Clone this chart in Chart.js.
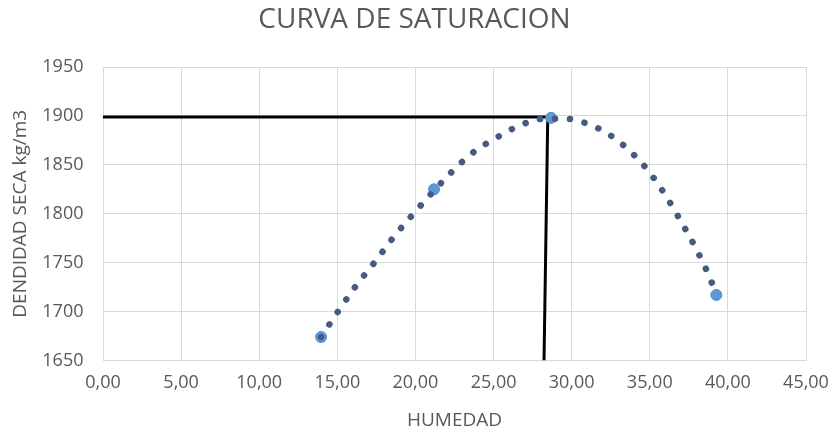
<!DOCTYPE html>
<html>
<head>
<meta charset="utf-8">
<script src="https://cdn.jsdelivr.net/npm/chart.js@4/dist/chart.umd.min.js"></script>
<style>
  html, body { margin: 0; padding: 0; background: #fff; }
  #grafico { display: block; }
</style>
</head>
<body>
<canvas id="grafico" width="834" height="433"></canvas>
<script>
// puntos del ensayo
const humedadEnsayo = [13.96, 21.19, 28.68, 39.26];
const densidadEnsayo = [1674, 1825, 1898, 1717];

// linea de tendencia
const humedadTendencia = [13.96, 15.04, 16.18, 17.37, 18.55, 19.76, 21.04, 22.28, 23.64, 25.21, 26.78, 28.2, 29.7, 31.0, 32.3, 33.6, 34.9, 36.0, 37.0, 37.94, 38.78, 39.2];
const densidadTendencia = [1674, 1700, 1726, 1750, 1775, 1798, 1821, 1842, 1862, 1878, 1891, 1897, 1897, 1892, 1882, 1866, 1844, 1819, 1792, 1765, 1737, 1720];

// humedad optima / densidad maxima
const humedadOptima = [0, 28.47, 28.23];
const densidadMaxima = [1899, 1899, 1650];

// ejes
const ejeX = { min: 0, max: 45, paso: 5 };
const ejeY = { min: 1650, max: 1950, paso: 50 };

function juntar(xs, ys) {
  return xs.map(function (x, i) { return { x: x, y: ys[i] }; });
}

const gris = '#595959';
const fuente = "'Open Sans', sans-serif";

new Chart(document.getElementById('grafico'), {
  type: 'scatter',
  data: {
    datasets: [
      {
        label: 'Tendencia',
        data: juntar(humedadTendencia, densidadTendencia),
        showLine: true,
        borderColor: '#465a82',
        borderWidth: 6.5,
        borderDash: [0.1, 14.9],
        borderCapStyle: 'round',
        cubicInterpolationMode: 'monotone',
        pointRadius: 0,
        order: 0
      },
      {
        label: 'Ensayo',
        data: juntar(humedadEnsayo, densidadEnsayo),
        backgroundColor: '#5b9bd5',
        borderColor: '#4a90d0',
        borderWidth: 1,
        pointRadius: 5.5,
        order: 1
      },
      {
        label: 'Optimo',
        data: juntar(humedadOptima, densidadMaxima),
        showLine: true,
        borderColor: '#000',
        borderWidth: 3,
        pointRadius: 0,
        tension: 0,
        order: 2
      }
    ]
  },
  options: {
    responsive: false,
    animation: false,
    layout: { padding: { left: 0, right: 5, top: 0, bottom: 0 } },
    plugins: {
      legend: { display: false },
      tooltip: { enabled: false },
      title: {
        display: true,
        text: 'CURVA DE SATURACION',
        color: gris,
        font: { family: fuente, size: 28, weight: 'normal' },
        padding: { top: 3, bottom: 30.4 }
      }
    },
    scales: {
      x: {
        type: 'linear',
        min: ejeX.min,
        max: ejeX.max,
        afterFit: function (s) {
          s.height = 72.5;
          s.paddingLeft = 0;
          s.paddingRight = 0;
        },
        ticks: {
          stepSize: ejeX.paso,
          color: gris,
          padding: 12,
          font: { family: fuente, size: 18 },
          callback: function (v) { return v.toFixed(2).replace('.', ','); }
        },
        grid: { color: '#d9d9d9', lineWidth: 1, drawTicks: false },
        border: { color: '#d9d9d9' },
        title: {
          display: true,
          text: 'HUMEDAD',
          color: gris,
          font: { family: fuente, size: 19 },
          padding: { top: 0, bottom: 1 }
        }
      },
      y: {
        type: 'linear',
        min: ejeY.min,
        max: ejeY.max,
        afterFit: function (s) { s.width = 103; },
        ticks: {
          stepSize: ejeY.paso,
          color: gris,
          padding: 19.5,
          font: { family: fuente, size: 18 },
          callback: function (v) { return String(v); }
        },
        grid: { color: '#d9d9d9', lineWidth: 1, drawTicks: false },
        border: { color: '#d9d9d9' },
        title: {
          display: true,
          text: 'DENDIDAD SECA kg/m3',
          color: gris,
          font: { family: fuente, size: 19 },
          padding: { top: 9, bottom: 0 }
        }
      },
      // eje vacio a la derecha, solo para dejar el margen
      margen: {
        type: 'linear',
        position: 'right',
        display: true,
        afterFit: function (s) { s.width = 23; },
        ticks: { display: false },
        grid: { display: false, drawTicks: false },
        border: { display: false }
      }
    }
  }
});
</script>
</body>
</html>
